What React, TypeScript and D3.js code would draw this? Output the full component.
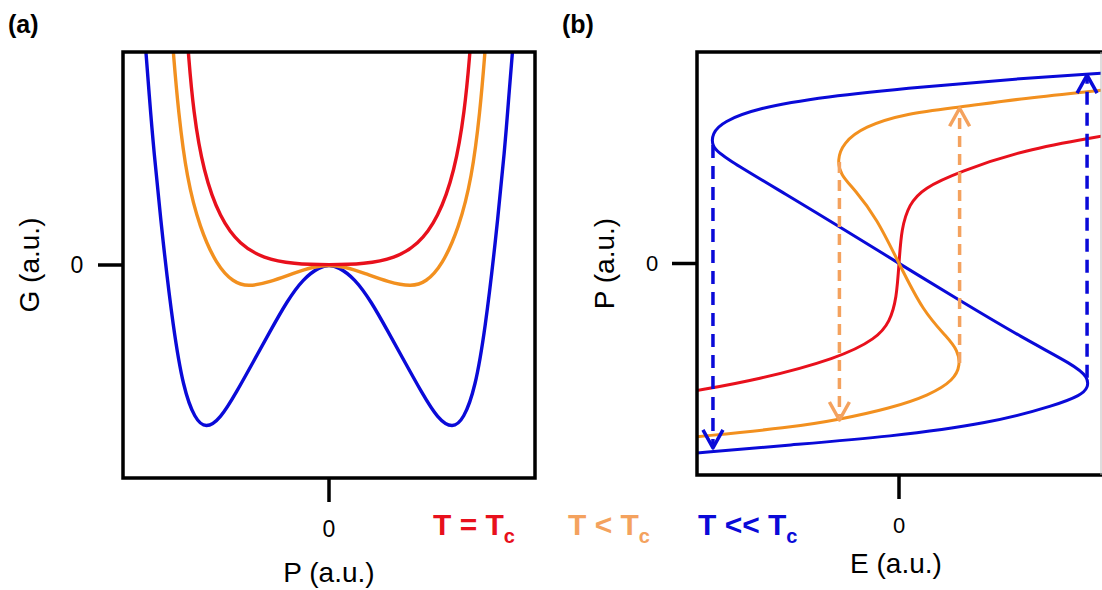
import * as d3 from "d3";

type Pt = [number, number];

// (a) free energy G against polarisation P
const gBlue: Pt[] = [
  [-1.345, 1.1], [-1.333, 1.0], [-1.309, 0.798], [-1.28, 0.563], [-1.207, 0.094], [-1.134, -0.297],
  [-1.061, -0.579], [-0.976, -0.725], [-0.896, -0.768], [-0.794, -0.725], [-0.672, -0.595],
  [-0.551, -0.454], [-0.43, -0.313], [-0.308, -0.172], [-0.187, -0.063], [-0.066, -0.008],
  [0, 0],
  [0.066, -0.008], [0.187, -0.063], [0.308, -0.172], [0.43, -0.313], [0.551, -0.454],
  [0.672, -0.595], [0.794, -0.725], [0.9, -0.768], [0.98, -0.725], [1.065, -0.579],
  [1.138, -0.297], [1.21, 0.094], [1.283, 0.563], [1.31, 0.8], [1.336, 1.0], [1.348, 1.1],
];
const gOrange: Pt[] = [
  [-1.145, 1.1], [-1.134, 1.0], [-1.097, 0.72], [-1.036, 0.407], [-0.94, 0.172], [-0.818, 0.0],
  [-0.697, -0.082], [-0.588, -0.102], [-0.43, -0.08], [-0.26, -0.039], [-0.114, -0.008],
  [0, 0],
  [0.114, -0.008], [0.26, -0.039], [0.43, -0.08], [0.6, -0.102], [0.705, -0.082],
  [0.825, 0.0], [0.945, 0.172], [1.04, 0.407], [1.1, 0.72], [1.136, 1.0], [1.147, 1.1],
];
const gRed: Pt[] = [
  [-1.035, 1.1], [-1.025, 1.0], [-0.988, 0.72], [-0.915, 0.438], [-0.794, 0.219], [-0.648, 0.094],
  [-0.478, 0.031], [-0.26, 0.005], [0, 0], [0.26, 0.005], [0.478, 0.031], [0.648, 0.094],
  [0.794, 0.219], [0.915, 0.438], [0.988, 0.72], [1.027, 1.0], [1.037, 1.1],
];

// (b) polarisation P against field E, as [E, P], ordered by P
const pBlue: Pt[] = [
  [-1.01, -0.897], [-0.54, -0.858], [-0.045, -0.819], [0.45, -0.756], [0.781, -0.669],
  [0.9, -0.622], [0.935, -0.59], [0.937, -0.537], [0.866, -0.48], [0.615, -0.354],
  [0.284, -0.165], [0, 0], [-0.308, 0.182], [-0.54, 0.316], [-0.873, 0.505], [-0.927, 0.552],
  [-0.925, 0.616], [-0.873, 0.67], [-0.704, 0.734], [-0.375, 0.789], [0.12, 0.836],
  [0.615, 0.876], [1.01, 0.9],
];
const pOrange: Pt[] = [
  [-1.01, -0.82], [-0.54, -0.776], [-0.292, -0.737], [-0.045, -0.685], [0.153, -0.622],
  [0.272, -0.551], [0.304, -0.48], [0.29, -0.41], [0.24, -0.35], [0.12, -0.228],
  [0, 0], [-0.11, 0.214], [-0.22, 0.35], [-0.29, 0.42], [-0.305, 0.49],
  [-0.278, 0.568], [-0.176, 0.647], [0.038, 0.71], [0.299, 0.739], [0.615, 0.781], [1.01, 0.82],
];
const pRed: Pt[] = [
  [-1.01, -0.602], [-0.705, -0.551], [-0.3, -0.448], [-0.11, -0.354], [-0.045, -0.275],
  [-0.012, -0.165], [0, 0], [0.012, 0.165], [0.05, 0.28], [0.12, 0.356], [0.299, 0.434],
  [0.615, 0.537], [1.01, 0.603],
];

// switching jumps in (b): field, start P, end P
const jumps = [
  { key: "blue", e: -0.921, from: 0.56, to: -0.872 },
  { key: "blue", e: 0.931, from: -0.54, to: 0.891 },
  { key: "orange", e: -0.295, from: 0.48, to: -0.74 },
  { key: "orange", e: 0.3, from: -0.47, to: 0.734 },
];

const legend = [
  { key: "red", label: "T = T" },
  { key: "orange", label: "T < T" },
  { key: "blue", label: "T << T" },
];

const RED = "#e8101c";
const ORANGE = "#f2901f";
const ORANGE_LIGHT = "#f4a25e";
const BLUE = "#0a0ad8";
const FONT = "'Liberation Sans', Arial, Helvetica, sans-serif";

export default function App() {
  const W = 1102;
  const H = 590;

  // panel a
  const xa = d3.scaleLinear().domain([-1.5, 1.5]).range([123, 535]);
  const ya = d3.scaleLinear().domain([-1, 1]).range([478, 52]);
  // panel b
  const xb = d3.scaleLinear().domain([-1, 1]).range([697, 1101]);
  const yb = d3.scaleLinear().domain([-1, 1]).range([475, 52]);

  const lineA = d3.line<Pt>().x(d => xa(d[0])).y(d => ya(d[1])).curve(d3.curveBasis);
  const lineB = d3.line<Pt>().x(d => xb(d[0])).y(d => yb(d[1])).curve(d3.curveBasis);

  const dashColor: Record<string, string> = { blue: BLUE, orange: ORANGE_LIGHT };
  const legendColor: Record<string, string> = { red: RED, orange: ORANGE_LIGHT, blue: BLUE };
  const legendX = [433, 568, 698];

  const [a0, a1] = xa.range();
  const [b0, b1] = xb.range();

  return (
    <svg width={W} height={H} style={{ position: "absolute", left: 0, top: 0, background: "#fff" }} fontFamily={FONT}>
      <defs>
        <clipPath id="clipA"><rect x={a0} y={ya(1)} width={a1 - a0} height={ya(-1) - ya(1)} /></clipPath>
        <clipPath id="clipB"><rect x={b0} y={yb(1)} width={b1 - b0} height={yb(-1) - yb(1)} /></clipPath>
      </defs>

      {/* panel labels */}
      <text x={8} y={33} fontSize={25} fontWeight="bold">(a)</text>
      <text x={562} y={33} fontSize={25} fontWeight="bold">(b)</text>

      {/* ---- panel (a) ---- */}
      <g clipPath="url(#clipA)" fill="none" strokeWidth={3.4} strokeLinejoin="round">
        <path d={lineA(gBlue) || ""} stroke={BLUE} />
        <path d={lineA(gOrange) || ""} stroke={ORANGE} />
        <path d={lineA(gRed) || ""} stroke={RED} />
      </g>
      <rect x={a0} y={ya(1)} width={a1 - a0} height={ya(-1) - ya(1)} fill="none" stroke="#000" strokeWidth={3.5} />
      <line x1={a0 - 25} x2={a0} y1={ya(0)} y2={ya(0)} stroke="#000" strokeWidth={3.5} />
      <line x1={xa(0)} x2={xa(0)} y1={ya(-1)} y2={ya(-1) + 24} stroke="#000" strokeWidth={3.5} />
      <text x={77} y={ya(0) + 8} fontSize={23} textAnchor="middle">0</text>
      <text x={xa(0)} y={537} fontSize={23} textAnchor="middle">0</text>
      <text x={xa(0)} y={582} fontSize={28} textAnchor="middle">P (a.u.)</text>
      <text transform={`translate(39,${ya(0)}) rotate(-90)`} fontSize={28} textAnchor="middle">G (a.u.)</text>

      {/* ---- panel (b) ---- */}
      <g clipPath="url(#clipB)" fill="none" strokeWidth={3} strokeLinejoin="round">
        <path d={lineB(pRed) || ""} stroke={RED} />
        <path d={lineB(pBlue) || ""} stroke={BLUE} />
        <path d={lineB(pOrange) || ""} stroke={ORANGE} />
        {jumps.map((j, i) => {
          const x = xb(j.e);
          const ys = yb(j.from);
          const yt = yb(j.to);
          const dir = yt > ys ? -1 : 1;
          const c = dashColor[j.key];
          return (
            <g key={i} stroke={c} strokeWidth={3.5}>
              <line x1={x} x2={x} y1={ys} y2={yt + dir * 4} strokeDasharray={j.key === "blue" ? "13,8" : "11,7"} />
              <polyline points={`${x - 10},${yt + dir * 18} ${x},${yt} ${x + 10},${yt + dir * 18}`} />
            </g>
          );
        })}
      </g>
      <path d={`M${b1 + 4},${yb(1)} H${b0} V${yb(-1)} H${b1 + 4}`} fill="none" stroke="#000" strokeWidth={3.5} />
      <line x1={b1} x2={b1} y1={yb(1)} y2={yb(-1)} stroke="#bbb" strokeWidth={1} />
      <line x1={b0 - 25} x2={b0} y1={yb(0)} y2={yb(0)} stroke="#000" strokeWidth={3.5} />
      <line x1={xb(0)} x2={xb(0)} y1={yb(-1)} y2={yb(-1) + 24} stroke="#000" strokeWidth={3.5} />
      <text x={652} y={yb(0) + 7} fontSize={22} textAnchor="middle">0</text>
      <text x={xb(0)} y={533} fontSize={22} textAnchor="middle">0</text>
      <text x={896} y={573} fontSize={28} textAnchor="middle">E (a.u.)</text>
      <text transform={`translate(614,${yb(0)}) rotate(-90)`} fontSize={28} textAnchor="middle">P (a.u.)</text>

      {/* legend */}
      {legend.map((d, i) => (
        <text key={d.key} x={legendX[i]} y={535} fontSize={30} fontWeight="bold" fill={legendColor[d.key]}>
          {d.label}
          <tspan fontSize={20} dy={8}>c</tspan>
        </text>
      ))}
    </svg>
  );
}
